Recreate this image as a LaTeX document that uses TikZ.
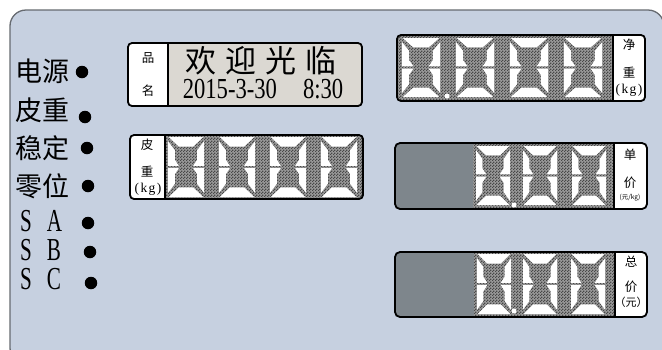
\documentclass[tikz,border=0pt]{standalone}
\usepackage{fontspec}
\setmainfont{Liberation Serif}
\newfontfamily\cjk{Noto Sans CJK SC}
\newfontfamily\narrowserif{Liberation Serif}[FakeStretch=0.66]
\newfontfamily\datefont{Liberation Serif}[FakeStretch=0.78]
\newfontfamily\unitfont{Liberation Serif}[LetterSpace=10]
\usetikzlibrary{patterns.meta}
\definecolor{panel}{HTML}{C6D0E0}
\definecolor{panelline}{HTML}{666A70}
\definecolor{namebg}{HTML}{DBD8D2}
\definecolor{lcdlight}{HTML}{9A9A9A}
\definecolor{lcddark}{HTML}{484848}
\definecolor{solidgray}{HTML}{7E868C}
\tikzdeclarepattern{name=lcdchk, type=uncolored,
  bounding box={(0pt,0pt) and (3pt,3pt)}, tile size={(3pt,3pt)},
  code={\fill (0pt,0pt) rectangle (1.5pt,1.5pt); \fill (1.5pt,1.5pt) rectangle (3pt,3pt);}}
\newcommand\lcddigit[4]{%
  \begin{scope}[shift={(#1,#2)}, x=#3pt, y=-#4pt]
    \fill[white] (0.02,0) -- (0.98,0) -- (0.70,0.16) -- (0.30,0.16) -- cycle;
    \fill[white] (0.02,1) -- (0.98,1) -- (0.70,0.84) -- (0.30,0.84) -- cycle;
    \fill[white] (0,0.07) -- (0.19,0.22) -- (0.19,0.38) -- (0.30,0.48) -- (0,0.48) -- cycle;
    \fill[white] (0,0.93) -- (0.19,0.78) -- (0.19,0.62) -- (0.30,0.52) -- (0,0.52) -- cycle;
    \fill[white] (1,0.07) -- (0.81,0.22) -- (0.81,0.38) -- (0.70,0.48) -- (1,0.48) -- cycle;
    \fill[white] (1,0.93) -- (0.81,0.78) -- (0.81,0.62) -- (0.70,0.52) -- (1,0.52) -- cycle;
  \end{scope}}
\newcommand\lcdarea[4]{%
  \fill[lcdlight] (#1,#2) rectangle (#3,#4);
  \fill[pattern=lcdchk, pattern color=lcddark] (#1,#2) rectangle (#3,#4);}
\begin{document}
\begin{tikzpicture}[x=1pt,y=-1pt,
  box/.style={draw=black, line width=1.8pt, rounded corners=4pt},
  divider/.style={draw=black, line width=1.2pt},
  lbl/.style={font=\cjk\fontsize{12.5}{12.5}\selectfont, inner sep=0pt},
  unitlbl/.style={font=\unitfont\fontsize{13.5}{13.5}\selectfont, inner sep=0pt},
  biglbl/.style={font=\cjk\fontsize{27}{27}\selectfont, inner sep=0pt, anchor=west},
  latinlbl/.style={font=\narrowserif\fontsize{32}{32}\selectfont, inner sep=0pt, anchor=west},
  lamp/.style={circle, fill=black, inner sep=0pt, minimum size=12.5pt},
  decpt/.style={circle, fill=white, inner sep=0pt, minimum size=5pt}]
\useasboundingbox (0,0) rectangle (662,349);
\fill[white] (0,0) rectangle (662,349);
% panel
\draw[fill=panel, draw=panelline, line width=1.3pt, rounded corners=16pt] (10,10) rectangle (664,364);

% left indicator labels
\node[biglbl] (tpower) at (15,71) {电源};
\node[lamp] (lpower) at (82,72) {};
\node[biglbl] (ttare) at (15,110) {皮重};
\node[lamp] (ltare) at (85,117) {};
\node[biglbl] (tstable) at (15,148) {稳定};
\node[lamp] (lstable) at (87,148) {};
\node[biglbl] (tzero) at (15,186) {零位};
\node[lamp] (lzero) at (88,186) {};
\node[latinlbl] (tsa) at (20,221) {S\hspace{15pt}A};
\node[lamp] (lsa) at (88,223) {};
\node[latinlbl] (tsb) at (20,250) {S\hspace{15pt}B};
\node[lamp] (lsb) at (90,252) {};
\node[latinlbl] (tsc) at (20,279) {S\hspace{15pt}C};
\node[lamp] (lsc) at (91,283) {};

% name box
\begin{scope}
  \clip[rounded corners=4pt] (128,43) rectangle (362,106);
  \fill[white] (128,43) rectangle (168,106);
  \fill[namebg] (168,43) rectangle (362,106);
\end{scope}
\draw[divider] (168,43) -- (168,106);
\draw[box] (128,43) rectangle (362,106);
\node[lbl] (pin) at (148,58) {品};
\node[lbl] (ming) at (148,91) {名};
\node[font=\cjk\fontsize{31}{31}\selectfont, inner sep=0pt] (welcome) at (261,61) {欢\hspace{9pt}迎\hspace{9pt}光\hspace{9pt}临};
\node[font=\datefont\fontsize{29}{29}\selectfont, inner sep=0pt] (date) at (263,89) {2015-3-30\hspace{26pt}8:30};

% tare box
\begin{scope}
  \clip[rounded corners=4pt] (130,135) rectangle (363,199);
  \fill[white] (130,135) rectangle (165,199);
  \lcdarea{165}{135}{363}{199}
\end{scope}
\lcddigit{168}{137}{36}{60}
\lcddigit{219}{137}{36}{60}
\lcddigit{270}{137}{36}{60}
\lcddigit{321}{137}{36}{60}
\draw[divider] (165,135) -- (165,199);
\draw[box] (130,135) rectangle (363,199);
\node[lbl] (tpi) at (147,145) {皮};
\node[lbl] (tzhong) at (147,172) {重};
\node[unitlbl] (tkg) at (148,189) {(kg)};

% net weight box
\begin{scope}
  \clip[rounded corners=4pt] (397,35) rectangle (645,101);
  \lcdarea{397}{35}{613}{101}
  \fill[white] (613,35) rectangle (645,101);
\end{scope}
\lcddigit{402}{38}{38}{59}
\lcddigit{456}{38}{38}{59}
\lcddigit{510}{38}{38}{59}
\lcddigit{564}{38}{38}{59}
\node[decpt] (ndp) at (447,96) {};
\draw[divider] (613,35) -- (613,101);
\draw[box] (397,35) rectangle (645,101);
\node[lbl] (njing) at (629,45) {净};
\node[lbl] (nzhong) at (629,73) {重};
\node[unitlbl] (nkg) at (629,90) {(kg)};

% unit price box
\begin{scope}
  \clip[rounded corners=5pt] (395,143) rectangle (647,209);
  \fill[solidgray] (395,143) rectangle (473,209);
  \lcdarea{473}{143}{614}{209}
  \fill[white] (614,143) rectangle (647,209);
\end{scope}
\lcddigit{476}{146}{34}{59}
\lcddigit{523}{146}{34}{59}
\lcddigit{572}{146}{34}{59}
\node[decpt] (udp) at (514,205) {};
\draw[divider] (614,143) -- (614,209);
\draw[box, rounded corners=5pt] (395,143) rectangle (647,209);
\node[lbl] (udan) at (630,155) {单};
\node[lbl] (ujia) at (630,183) {价};
\node[font=\cjk\fontsize{6.5}{6.5}\selectfont, inner sep=0pt] (uunit) at (630,198) {(元/kg)};

% total price box
\begin{scope}
  \clip[rounded corners=5pt] (395,252) rectangle (647,317);
  \fill[solidgray] (395,252) rectangle (474,317);
  \lcdarea{474}{252}{615}{317}
  \fill[white] (615,252) rectangle (647,317);
\end{scope}
\lcddigit{477}{254}{34}{60}
\lcddigit{523}{254}{34}{60}
\lcddigit{571}{254}{34}{60}
\node[decpt] (tdp) at (514,311) {};
\draw[divider] (615,252) -- (615,317);
\draw[box, rounded corners=5pt] (395,252) rectangle (647,317);
\node[lbl] (tzong) at (631,262) {总};
\node[lbl] (tjia) at (631,287) {价};
\node[font=\cjk\fontsize{11}{11}\selectfont, inner sep=0pt] (tyuan) at (631,302) {（元）};
\end{tikzpicture}
\end{document}
